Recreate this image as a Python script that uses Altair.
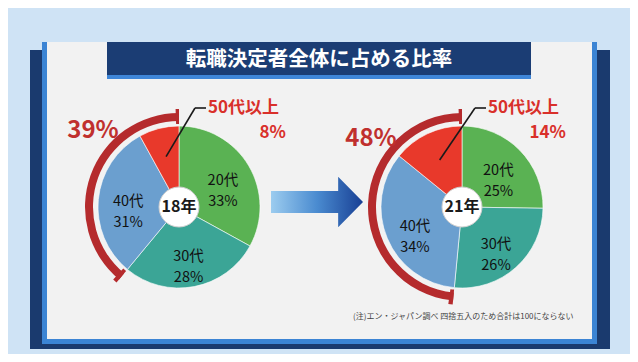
import math
import altair as alt
import pandas as pd

# ---------------- data ----------------
ages = ["20代", "30代", "40代", "50代以上"]
years = ["18年", "21年"]
shares_18 = [33, 28, 31, 8]
shares_21 = [25, 26, 34, 14]
slice_colors = ["#5ab253", "#3ba596", "#6b9fcf", "#e8392b"]

title_text = "転職決定者全体に占める比率"
note_text = "(注)エン・ジャパン調べ 四捨五入のため合計は100にならない"

# ---------------- layout ----------------
OFF = 8
W, H = 622, 346


def px(v):
    return v - OFF


PIE_CX = [179, 462]
PIE_CY = 207
R_PIE = 81
R_HOLE = 20
R_ARC_IN, R_ARC_OUT = 86, 94
R_LABEL = 51
R_LEAD = 52
LABEL50 = [(208, 108), (488, 108)]
PCT50_DY = 25
BIGPCT_POS = [(93, 131), (371, 139)]
FONT = "Noto Sans CJK JP"
TAU = 2 * math.pi

# ---------------- derived tables ----------------
slice_rows, hole_rows, arc_rows, flare_rows, lead_rows, lab50_rows, big_rows = [], [], [], [], [], [], []
for i, (year, shares) in enumerate(zip(years, [shares_18, shares_21])):
    total = sum(shares)
    cx, cy = px(PIE_CX[i]), px(PIE_CY)
    cum = 0
    for j, (age, v) in enumerate(zip(ages, shares)):
        t0 = TAU * cum / total
        cum += v
        t1 = TAU * cum / total
        mid = (t0 + t1) / 2
        slice_rows.append(dict(
            year=year, age=age, v=v, t0=t0, t1=t1, cx=cx, cy=cy,
            lx=cx + R_LABEL * math.sin(mid), ly=cy - R_LABEL * math.cos(mid),
            label=f"{age}\n{v}%", idx=j,
        ))
        if j == 3:
            sx = cx + R_LEAD * math.sin(mid)
            sy = cy - R_LEAD * math.cos(mid)
            ax, ay = px(LABEL50[i][0]), px(LABEL50[i][1])
            lead_rows.append(dict(x=sx, y=sy, x2=ax - 13, y2=ay))
            lead_rows.append(dict(x=ax - 13, y=ay, x2=ax - 2, y2=ay))
            lab50_rows.append(dict(x=ax, y=ay, name=age, pct=f"{v}%", px2=ax + 78, py=ay + PCT50_DY))
    hole_rows.append(dict(year=year, cx=cx, cy=cy))
    upper = shares[2] + shares[3]
    a0 = TAU * (1 - upper / total)
    arc_rows.append(dict(cx=cx, cy=cy, t0=a0, t1=TAU))
    flare_rows.append(dict(cx=cx, cy=cy, t0=a0, t1=a0 + 0.045))
    flare_rows.append(dict(cx=cx, cy=cy, t0=TAU - 0.035, t1=TAU))
    big_rows.append(dict(x=px(BIGPCT_POS[i][0]), y=px(BIGPCT_POS[i][1]), text=f"{upper}%"))

slices = pd.DataFrame(slice_rows)
holes = pd.DataFrame(hole_rows)
arcs = pd.DataFrame(arc_rows)
flares = pd.DataFrame(flare_rows)
leads = pd.DataFrame(lead_rows)
lab50 = pd.DataFrame(lab50_rows)
bigs = pd.DataFrame(big_rows)

XQ = lambda f: alt.X(f"{f}:Q", scale=None, axis=None)
YQ = lambda f: alt.Y(f"{f}:Q", scale=None, axis=None)


def box(x0, y0, x1, y1, color):
    return alt.Chart(holes.head(1)).mark_rect(color=color).encode(
        x=alt.value(px(x0)), x2=alt.value(px(x1)),
        y=alt.value(px(y0)), y2=alt.value(px(y1)),
    )


# ---------------- frame ----------------
navy = box(30, 50, 610, 349, "#1a3a6e")
stripe = box(42, 42, 597, 344, "#3b84d4")
panel = box(47, 42, 592, 339, "#f2f2f2")
title_bar = box(107, 42, 531, 78, "#1b3d74")
title_line = box(107, 75, 531, 79, "#3f86d8")
title = alt.Chart(holes.head(1)).mark_text(
    text=title_text, font=FONT, fontSize=20.5, fontWeight="bold", color="#ffffff",
    align="center", baseline="middle",
).encode(x=alt.value(px(319)), y=alt.value(px(60)))

# ---------------- arrow ----------------
arrow_path = "M-1,-0.24L0.46,-0.24L0.46,-0.55L1,0L0.46,0.55L0.46,0.24L-1,0.24Z"
arrow = alt.Chart(holes.head(1)).mark_point(
    shape=arrow_path, size=92 * 92, filled=True, opacity=1, strokeWidth=0,
    fill=alt.LinearGradient(
        gradient="linear", x1=0, x2=1, y1=0, y2=0,
        stops=[alt.GradientStop(color="#9cccef", offset=0),
               alt.GradientStop(color="#4a8bd0", offset=0.5),
               alt.GradientStop(color="#183f94", offset=1)],
    ),
).encode(x=alt.value(px(317)), y=alt.value(px(202)))

# ---------------- pies ----------------
pie = alt.Chart(slices).mark_arc(radius=R_PIE, stroke="#ffffff", strokeWidth=0.6).encode(
    theta=alt.Theta("t0:Q", scale=None), theta2="t1:Q",
    x=XQ("cx"), y=YQ("cy"),
    color=alt.Color("age:N", scale=alt.Scale(domain=ages, range=slice_colors), legend=None),
)
hole = alt.Chart(holes).mark_arc(
    radius=R_HOLE, theta=0, theta2=TAU, fill="#ffffff", stroke="#cfcfcf", strokeWidth=1,
).encode(x=XQ("cx"), y=YQ("cy"))

outer_arc = alt.Chart(arcs).mark_arc(
    radius=R_ARC_OUT, radius2=R_ARC_IN, color="#b52b2d",
).encode(theta=alt.Theta("t0:Q", scale=None), theta2="t1:Q", x=XQ("cx"), y=YQ("cy"))
flare = alt.Chart(flares).mark_arc(
    radius=R_ARC_OUT + 4, radius2=R_ARC_IN - 3, color="#b52b2d",
).encode(theta=alt.Theta("t0:Q", scale=None), theta2="t1:Q", x=XQ("cx"), y=YQ("cy"))

leader = alt.Chart(leads).mark_rule(color="#1a1a1a", strokeWidth=1.6).encode(
    x=XQ("x"), y=YQ("y"), x2="x2:Q", y2="y2:Q",
)

slice_text = slices[slices["idx"] < 3]
lab = alt.Chart(slice_text).mark_text(
    font=FONT, fontSize=14.5, lineHeight=21, lineBreak="\n", align="center", baseline="middle",
    color="#111111",
).encode(x=XQ("lx"), y=YQ("ly"), text="label:N")

year_lab = alt.Chart(holes).mark_text(
    font=FONT, fontSize=16, fontWeight="bold", color="#1a1a1a", align="center", baseline="middle",
).encode(x=XQ("cx"), y=YQ("cy"), text="year:N")

name50 = alt.Chart(lab50).mark_text(
    font=FONT, fontSize=17, fontWeight="bold", color="#d9302a", align="left", baseline="middle",
).encode(x=XQ("x"), y=YQ("y"), text="name:N")
pct50 = alt.Chart(lab50).mark_text(
    font=FONT, fontSize=17, fontWeight="bold", color="#d9302a", align="right", baseline="middle",
).encode(x=XQ("px2"), y=YQ("py"), text="pct:N")

big = alt.Chart(bigs).mark_text(
    font=FONT, fontSize=24, fontWeight="bold", color="#c0302e", align="center", baseline="middle",
).encode(x=XQ("x"), y=YQ("y"), text="text:N")

note = alt.Chart(holes.head(1)).mark_text(
    text=note_text, font=FONT, fontSize=8, fontWeight="normal", color="#444444",
    align="left", baseline="middle",
).encode(x=alt.value(px(353)), y=alt.value(px(317)))

chart = alt.layer(
    navy, stripe, panel, title_bar, title_line, title, arrow,
    outer_arc, flare, pie, hole, leader, lab, year_lab, name50, pct50, big, note,
).properties(
    width=W, height=H, padding=0, autosize=alt.AutoSizeParams(type="none"),
    background="#cfe3f5",
).configure_view(stroke=None)

chart.save("out.html", embed_options={"renderer": "svg", "actions": False})
